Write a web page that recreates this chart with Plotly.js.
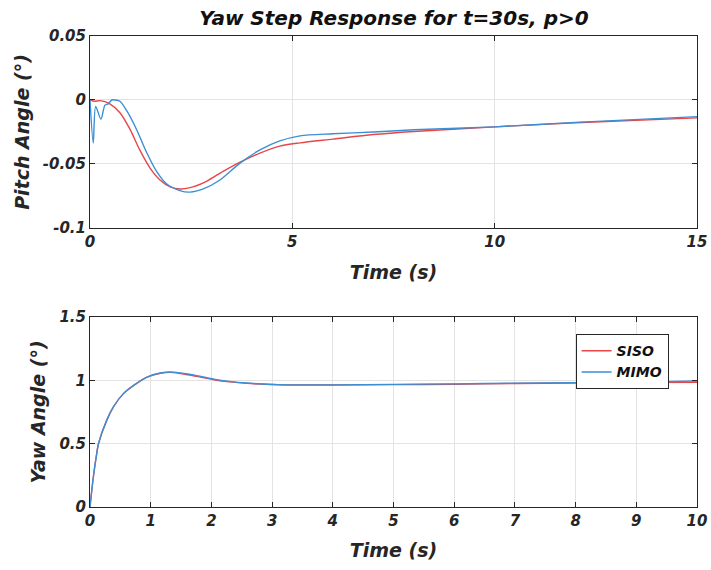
<!DOCTYPE html>
<html>
<head>
<meta charset="utf-8">
<script src="https://cdn.plot.ly/plotly-3.0.1.min.js"></script>
<style>body{margin:0;background:#fff;}#chart{width:711px;height:570px;}</style>
</head>
<body>
<div id="chart"></div>
<script>
// Pitch angle (top plot)
const pitchSisoT = [0, 0.12, 0.25, 0.49, 0.74, 0.99, 1.23, 1.48, 1.73, 1.98, 2.22, 2.47, 2.88, 3.29, 3.7, 4.2, 4.69, 5.19, 6, 7, 8, 10, 12, 15];
const pitchSisoV = [0, -0.001, -0.0005, -0.003, -0.010, -0.023, -0.039, -0.053, -0.0625, -0.0678, -0.0695, -0.0685, -0.0635, -0.0557, -0.0487, -0.0415, -0.036, -0.0335, -0.0306, -0.027, -0.0246, -0.021, -0.0178, -0.014];
const pitchMimoT = [0, 0.08, 0.14, 0.27, 0.37, 0.45, 0.54, 0.62, 0.74, 0.9, 1.15, 1.4, 1.65, 1.89, 2.22, 2.47, 2.8, 3.21, 3.7, 4.2, 4.69, 5.19, 6, 7, 8, 10, 12, 15];
const pitchMimoV = [0, -0.0337, -0.005, -0.015, -0.004, -0.003, 0, 0, -0.001, -0.008, -0.023, -0.041, -0.056, -0.0655, -0.0708, -0.072, -0.0695, -0.0625, -0.0495, -0.039, -0.032, -0.028, -0.0264, -0.025, -0.0233, -0.021, -0.0175, -0.013];
// Yaw angle (bottom plot)
const yawT = [0, 0.055, 0.11, 0.14, 0.275, 0.386, 0.55, 0.72, 0.94, 1.16, 1.32, 1.49, 1.76, 2.04, 2.3, 2.58, 3.1, 4, 5, 6, 7, 8, 9, 10];
const yawSisoV = [0, 0.237, 0.42, 0.5, 0.684, 0.79, 0.895, 0.96, 1.026, 1.056, 1.063, 1.054, 1.031, 1.005, 0.988, 0.976, 0.965, 0.963, 0.966, 0.969, 0.975, 0.979, 0.982, 0.985];
const yawMimoV = [0, 0.237, 0.42, 0.5, 0.684, 0.79, 0.895, 0.96, 1.026, 1.058, 1.066, 1.058, 1.037, 1.01, 0.992, 0.979, 0.966, 0.964, 0.968, 0.972, 0.978, 0.982, 0.986, 0.995];
const seriesNames = ['SISO', 'MIMO'];
const colors = ['#e8464a', '#3d8fd4'];
const pitchXTicks = [0, 5, 10, 15];
const pitchYTicks = [-0.1, -0.05, 0, 0.05];
const pitchYLabels = ['-0.1', '-0.05', '0', '0.05'];
const yawXTicks = [0,1,2,3,4,5,6,7,8,9,10];
const yawYTicks = [0, 0.5, 1, 1.5];
const yawYLabels = ['0', '0.5', '1', '1.5'];

const fam = 'DejaVu Sans, Liberation Sans, sans-serif';
const tickFont = {family: fam, size: 15, color: '#262626', weight: 'bold', style: 'italic'};
const axTitleFont = {family: fam, size: 19, color: '#262626', weight: 'bold', style: 'italic'};
const titleFont = {family: fam, size: 20, color: '#111', weight: 'bold', style: 'italic'};

const lineStyle = (c) => ({color: c, width: 1.4, shape: 'spline', smoothing: 0.8});
const traces = [
  {x: pitchSisoT, y: pitchSisoV, xaxis: 'x', yaxis: 'y', mode: 'lines', line: lineStyle(colors[0]), showlegend: false, name: seriesNames[0]},
  {x: pitchMimoT, y: pitchMimoV, xaxis: 'x', yaxis: 'y', mode: 'lines', line: lineStyle(colors[1]), showlegend: false, name: seriesNames[1]},
  {x: yawT, y: yawSisoV, xaxis: 'x2', yaxis: 'y2', mode: 'lines', line: lineStyle(colors[0]), name: seriesNames[0]},
  {x: yawT, y: yawMimoV, xaxis: 'x2', yaxis: 'y2', mode: 'lines', line: lineStyle(colors[1]), name: seriesNames[1]}
];

const axBase = {
  showline: true, linecolor: '#262626', linewidth: 1, mirror: 'ticks',
  ticks: 'inside', ticklen: 5, tickcolor: '#262626',
  showgrid: true, gridcolor: '#e3e3e3', gridwidth: 1,
  zeroline: false, tickfont: tickFont
};

const layout = {
  width: 711, height: 570,
  margin: {l: 90, r: 14, t: 36, b: 63},
  paper_bgcolor: '#fff', plot_bgcolor: '#fff',
  title: {text: 'Yaw Step Response for t=30s, p>0', font: titleFont, x: 394/711, xref: 'container', xanchor: 'center', y: 1 - 18/570, yref: 'container', yanchor: 'middle'},
  xaxis: Object.assign({}, axBase, {domain: [0, 1], anchor: 'y', range: [0, 15], tickvals: pitchXTicks, title: {text: 'Time (s)', font: axTitleFont, standoff: 15}}),
  yaxis: Object.assign({}, axBase, {domain: [0.5924, 1], anchor: 'x', range: [-0.1, 0.05], tickvals: pitchYTicks, ticktext: pitchYLabels, title: {text: 'Pitch Angle (°)', font: axTitleFont, standoff: 8}}),
  xaxis2: Object.assign({}, axBase, {domain: [0, 1], anchor: 'y2', range: [0, 10], tickvals: yawXTicks, title: {text: 'Time (s)', font: axTitleFont, standoff: 14}}),
  yaxis2: Object.assign({}, axBase, {domain: [0, 0.4034], anchor: 'x2', range: [0, 1.5], tickvals: yawYTicks, ticktext: yawYLabels, title: {text: 'Yaw Angle (°)', font: axTitleFont, standoff: 8}}),
  legend: {x: 0.80, y: 0.367, xanchor: 'left', yanchor: 'top', bgcolor: '#fff', bordercolor: '#262626', borderwidth: 1, font: {family: fam, size: 14, color: '#111', weight: 'bold', style: 'italic'}, tracegroupgap: 0}
};

Plotly.newPlot('chart', traces, layout, {displayModeBar: false, staticPlot: true});
</script>
</body>
</html>
